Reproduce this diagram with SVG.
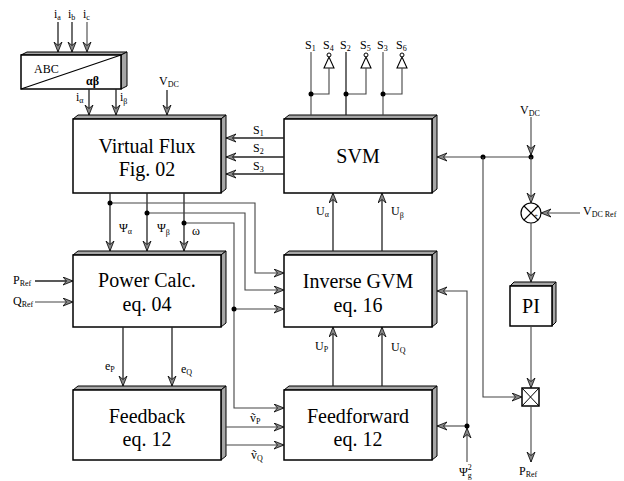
<svg xmlns="http://www.w3.org/2000/svg" width="624" height="481" viewBox="0 0 624 481">
<style>
.fr{fill:#fff;stroke:#000;stroke-width:1.5}
.bv{fill:#a6a6a6;stroke:#000;stroke-width:1}
.ln{fill:none;stroke:#222;stroke-width:1.3}
.lg{fill:none;stroke:#444;stroke-width:1.1}
.ar{marker-end:url(#ah)}
.t{font-family:"Liberation Serif","Times New Roman",serif;fill:#000}
.big{font-size:20px;text-anchor:middle}
.l{font-size:12px}
.s{font-size:8px}
.dot{fill:#000}
</style>
<defs>
<marker id="ah" markerWidth="12" markerHeight="10" refX="10" refY="4.5" orient="auto" markerUnits="userSpaceOnUse">
<path d="M0,0.5 L10,4.5 L0,8.5 L3.5,4.5 Z" fill="#888" stroke="#000" stroke-width="0.8"/>
</marker>
</defs>
<rect width="624" height="481" fill="#fff"/>

<g id="abc">
<polygon class="bv" points="21,55 27,52 127,52 121,55"/>
<polygon class="bv" points="121,55 127,52 127,86 121,89"/>
<rect class="fr" x="21" y="55" width="100" height="34"/>
<line x1="21" y1="89" x2="121" y2="55" stroke="#000" stroke-width="1.2"/>
<text class="t l" x="34" y="73">ABC</text>
<text class="t l" x="86" y="85" font-weight="bold">αβ</text>
</g>

<g id="virtual-flux">
<polygon class="bv" points="73,119 78,115 226,115 221,119"/>
<polygon class="bv" points="221,119 226,115 226,189 221,193"/>
<rect class="fr" x="73" y="119" width="148" height="74"/>
<text class="t big" x="147" y="153">Virtual Flux</text>
<text class="t big" x="147" y="176">Fig. 02</text>
</g>

<g id="svm">
<polygon class="bv" points="284,119 289,115 437,115 432,119"/>
<polygon class="bv" points="432,119 437,115 437,189 432,193"/>
<rect class="fr" x="284" y="119" width="148" height="74"/>
<text class="t big" x="358" y="163">SVM</text>
</g>

<g id="power-calc">
<polygon class="bv" points="73,255 78,251 226,251 221,255"/>
<polygon class="bv" points="221,255 226,251 226,323 221,327"/>
<rect class="fr" x="73" y="255" width="148" height="72"/>
<text class="t big" x="147" y="287">Power Calc.</text>
<text class="t big" x="147" y="311">eq. 04</text>
</g>

<g id="inverse-gvm">
<polygon class="bv" points="284,255 289,251 437,251 432,255"/>
<polygon class="bv" points="432,255 437,251 437,323 432,327"/>
<rect class="fr" x="284" y="255" width="148" height="72"/>
<text class="t big" x="358" y="288">Inverse GVM</text>
<text class="t big" x="358" y="312">eq. 16</text>
</g>

<g id="feedback">
<polygon class="bv" points="73,390 78,386 226,386 221,390"/>
<polygon class="bv" points="221,390 226,386 226,456 221,460"/>
<rect class="fr" x="73" y="390" width="148" height="70"/>
<text class="t big" x="147" y="423">Feedback</text>
<text class="t big" x="147" y="446">eq. 12</text>
</g>

<g id="feedforward">
<polygon class="bv" points="284,390 289,386 437,386 432,390"/>
<polygon class="bv" points="432,390 437,386 437,456 432,460"/>
<rect class="fr" x="284" y="390" width="148" height="70"/>
<text class="t big" x="358" y="423">Feedforward</text>
<text class="t big" x="358" y="446">eq. 12</text>
</g>

<g id="pi">
<polygon class="bv" points="510,286 514,282 556,282 552,286"/>
<polygon class="bv" points="552,286 556,282 556,322 552,326"/>
<rect class="fr" x="510" y="286" width="42" height="40"/>
<text class="t big" x="531" y="313">PI</text>
</g>

<g id="sum">
<circle cx="531" cy="213" r="10" fill="#fff" stroke="#000" stroke-width="1.2"/>
<line x1="524" y1="206" x2="538" y2="220" stroke="#000" stroke-width="1.1"/>
<line x1="538" y1="206" x2="524" y2="220" stroke="#000" stroke-width="1.1"/>
<text class="t" x="535" y="209" font-size="7">-</text>
<text class="t" x="534" y="218" font-size="7">+</text>
</g>

<g id="mult">
<rect x="522" y="388" width="17" height="18" fill="#fff" stroke="#000" stroke-width="1.5"/>
<line x1="522" y1="388" x2="539" y2="406" stroke="#000" stroke-width="1"/>
<line x1="539" y1="388" x2="522" y2="406" stroke="#000" stroke-width="1"/>
</g>

<g id="connectors">
<line class="ln ar" x1="58" y1="22" x2="58" y2="52"/>
<line class="ln ar" x1="72" y1="22" x2="72" y2="52"/>
<line class="lg ar" x1="87" y1="22" x2="87" y2="52"/>
<line class="ln ar" x1="89" y1="89" x2="89" y2="115"/>
<line class="ln ar" x1="116" y1="89" x2="116" y2="115"/>
<line class="ln ar" x1="167" y1="90" x2="167" y2="115"/>

<line class="ln ar" x1="284" y1="138" x2="226" y2="138"/>
<line class="ln ar" x1="284" y1="157" x2="226" y2="157"/>
<line class="ln ar" x1="284" y1="174" x2="226" y2="174"/>

<line class="lg" x1="311" y1="52" x2="311" y2="115"/>
<line class="ln" x1="346" y1="52" x2="346" y2="115" stroke-width="1.8"/>
<line class="lg" x1="383" y1="52" x2="383" y2="115"/>
<circle cx="329" cy="55" r="2" fill="#fff" stroke="#000" stroke-width="1"/>
<polygon points="324,68 334,68 329,57" fill="#fff" stroke="#000" stroke-width="1.1"/>
<polyline class="lg" points="329,68 329,94 311,94"/>
<circle cx="366" cy="55" r="2" fill="#fff" stroke="#000" stroke-width="1"/>
<polygon points="361,68 371,68 366,57" fill="#fff" stroke="#000" stroke-width="1.1"/>
<polyline class="lg" points="366,68 366,94 346,94"/>
<circle cx="402" cy="55" r="2" fill="#fff" stroke="#000" stroke-width="1"/>
<polygon points="397,68 407,68 402,57" fill="#fff" stroke="#000" stroke-width="1.1"/>
<polyline class="lg" points="402,68 402,94 383,94"/>
<circle class="dot" cx="311" cy="94" r="2.5"/>
<circle class="dot" cx="346" cy="94" r="2.5"/>
<circle class="dot" cx="383" cy="94" r="2.5"/>

<line class="ln ar" x1="110" y1="193" x2="110" y2="251"/>
<line class="ln ar" x1="147" y1="193" x2="147" y2="251" stroke-width="1.6"/>
<line class="ln ar" x1="184" y1="193" x2="184" y2="251"/>
<polyline class="lg ar" points="110,203 255,203 255,273 284,273"/>
<polyline class="lg ar" points="147,213 245,213 245,290 284,290"/>
<polyline class="lg ar" points="184,223 234,223 234,408 284,408"/>
<line class="lg ar" x1="234" y1="309" x2="284" y2="309"/>
<circle class="dot" cx="110" cy="203" r="2.5"/>
<circle class="dot" cx="147" cy="213" r="2.5"/>
<circle class="dot" cx="184" cy="223" r="2.5"/>
<circle class="dot" cx="234" cy="309" r="2.5"/>

<line class="ln ar" x1="35" y1="281" x2="73" y2="281"/>
<line class="lg ar" x1="35" y1="302" x2="73" y2="302"/>

<line class="ln ar" x1="333" y1="251" x2="333" y2="193" stroke-width="1.6"/>
<line class="ln ar" x1="382" y1="251" x2="382" y2="193" stroke-width="1.6"/>
<line class="ln ar" x1="123" y1="327" x2="123" y2="386" stroke-width="1.6"/>
<line class="ln ar" x1="172" y1="327" x2="172" y2="386" stroke-width="1.6"/>
<line class="ln ar" x1="333" y1="386" x2="333" y2="327" stroke-width="1.6"/>
<line class="ln ar" x1="382" y1="386" x2="382" y2="327" stroke-width="1.6"/>
<line class="lg ar" x1="226" y1="427" x2="284" y2="427"/>
<line class="lg ar" x1="226" y1="445" x2="284" y2="445"/>

<line class="lg ar" x1="467" y1="462" x2="467" y2="428"/>
<polyline class="lg ar" points="467,426 467,291 437,291"/>
<line class="lg ar" x1="467" y1="426" x2="437" y2="426"/>
<circle class="dot" cx="467" cy="426" r="2.5"/>

<line class="lg ar" x1="531" y1="117" x2="531" y2="155"/>
<line class="lg ar" x1="531" y1="157" x2="437" y2="157"/>
<circle class="dot" cx="531" cy="157" r="2.5"/>
<circle class="dot" cx="483" cy="157" r="2.5"/>
<line class="lg ar" x1="531" y1="157" x2="531" y2="203"/>
<line class="lg ar" x1="580" y1="213" x2="541" y2="213"/>
<line class="lg ar" x1="531" y1="223" x2="531" y2="282"/>
<line class="lg ar" x1="531" y1="326" x2="531" y2="388"/>
<polyline class="lg ar" points="483,157 483,397 522,397"/>
<line class="lg ar" x1="531" y1="406" x2="531" y2="462"/>
</g>

<g id="labels" class="t">
<text class="l" x="54" y="18">i<tspan class="s" dy="2">a</tspan></text>
<text class="l" x="68" y="18">i<tspan class="s" dy="2">b</tspan></text>
<text class="l" x="83" y="18">i<tspan class="s" dy="2">c</tspan></text>
<text class="l" x="76" y="101">i<tspan class="s" dy="2">α</tspan></text>
<text class="l" x="120" y="101">i<tspan class="s" dy="3">β</tspan></text>
<text class="l" x="159" y="85">V<tspan class="s" dy="2">DC</tspan></text>

<text class="l" x="305" y="49">S<tspan class="s" dy="2">1</tspan></text>
<text class="l" x="323" y="49">S<tspan class="s" dy="2">4</tspan></text>
<text class="l" x="340" y="49">S<tspan class="s" dy="2">2</tspan></text>
<text class="l" x="360" y="49">S<tspan class="s" dy="2">5</tspan></text>
<text class="l" x="377" y="49">S<tspan class="s" dy="2">3</tspan></text>
<text class="l" x="396" y="49">S<tspan class="s" dy="2">6</tspan></text>

<text class="l" x="253" y="134">S<tspan class="s" dy="2">1</tspan></text>
<text class="l" x="253" y="152">S<tspan class="s" dy="2">2</tspan></text>
<text class="l" x="253" y="170">S<tspan class="s" dy="2">3</tspan></text>

<text class="l" x="119" y="232">Ψ<tspan class="s" dy="2">α</tspan></text>
<text class="l" x="157" y="232">Ψ<tspan class="s" dy="3">β</tspan></text>
<text class="l" x="192" y="235">ω</text>

<text class="l" x="13" y="284">P<tspan class="s" dy="2">Ref</tspan></text>
<text class="l" x="13" y="305">Q<tspan class="s" dy="2">Ref</tspan></text>

<text class="l" x="105" y="370">e<tspan class="s" dy="2">P</tspan></text>
<text class="l" x="181" y="373">e<tspan class="s" dy="2">Q</tspan></text>

<text class="l" x="316" y="215">U<tspan class="s" dy="2">α</tspan></text>
<text class="l" x="391" y="215">U<tspan class="s" dy="3">β</tspan></text>
<text class="l" x="315" y="350">U<tspan class="s" dy="2">P</tspan></text>
<text class="l" x="391" y="351">U<tspan class="s" dy="2">Q</tspan></text>

<text class="l" x="250" y="422">ṽ<tspan class="s" dy="2">P</tspan></text>
<text class="l" x="251" y="459">ṽ<tspan class="s" dy="2">Q</tspan></text>

<text class="l" x="459" y="476">Ψ<tspan class="s" dx="0" dy="-6">2</tspan><tspan class="s" dx="-4" dy="8">g</tspan></text>
<text class="l" x="519" y="475">P<tspan class="s" dy="2">Ref</tspan></text>
<text class="l" x="520" y="114">V<tspan class="s" dy="2">DC</tspan></text>
<text class="l" x="583" y="215">V<tspan class="s" dy="2">DC Ref</tspan></text>
</g>
</svg>
